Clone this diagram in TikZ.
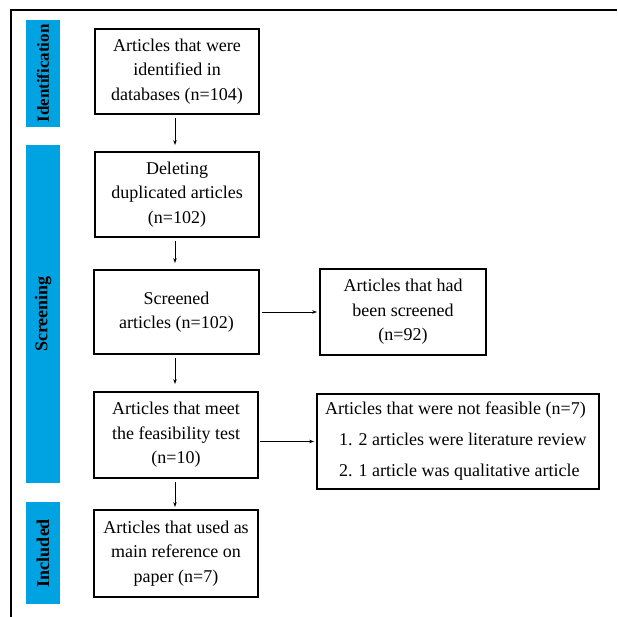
\documentclass[tikz,border=0pt]{standalone}
\usepackage{fontspec}
\setmainfont{Liberation Serif}
\usetikzlibrary{arrows.meta,calc}
\definecolor{barblue}{RGB}{0,163,226}
\begin{document}
\begin{tikzpicture}[x=1pt,y=-1pt,
  box/.style={draw=black,line width=1.8pt,align=center,inner sep=0pt,
    font=\fontsize{18}{24.5}\selectfont},
  bar/.style={fill=barblue,draw=none,rotate=90,inner sep=0pt,
    minimum height=34pt,font=\fontsize{18}{22}\selectfont\bfseries},
  arr/.style={line width=0.8pt,-{Stealth[length=5pt,width=3.5pt]}}
]
\fill[white] (0,0) rectangle (618,617);
\useasboundingbox (0,0) rectangle (618,617);
\draw[line width=2pt] (11,617) -- (11,10.5) -- (617,10.5);

% phase bars
\node[bar,minimum width=107pt,font=\fontsize{17}{22}\selectfont\bfseries] (bid) at (43,73.5) {Identification};
\node[bar,minimum width=338pt] (bsc) at (43,314) {Screening};
\node[bar,minimum width=102pt] (bin) at (43,553) {Included};

% boxes
\node[box,minimum width=164pt,minimum height=85pt] (b1) at (177,71.5)
  {Articles that were\\identified in\\databases (n=104)};
\node[box,minimum width=164pt,minimum height=85pt] (b2) at (177,194.5)
  {Deleting\\duplicated articles\\(n=102)};
\node[box,minimum width=165pt,minimum height=84pt] (b3) at (176.5,312)
  {Screened\\articles (n=102)};
\node[box,minimum width=166pt,minimum height=86pt] (b4) at (403,312)
  {Articles that had\\been screened\\(n=92)};
\node[box,minimum width=164pt,minimum height=86pt] (b5) at (176,435)
  {Articles that meet\\the feasibility test\\(n=10)};
\node[box,minimum width=282pt,minimum height=95pt] (b6) at (458,441.5) {};
\node[align=left,inner sep=0pt,anchor=west,font=\fontsize{18}{31}\selectfont]
  (b6t) at (325,441) {Articles that were not feasible (n=7)\\
   \hspace*{14pt}1. 2 articles were literature review\\
   \hspace*{14pt}2. 1 article was qualitative article};
\node[box,minimum width=164pt,minimum height=87pt] (b7) at (176,553.5)
  {Articles that used as\\main reference on\\paper (n=7)};

% connectors
\coordinate (ax) at (175,0);
\draw[arr,shorten <=3pt,shorten >=6pt] (b1.south -| ax) -- (b2.north -| ax);
\draw[arr,shorten <=3pt,shorten >=6pt] (b2.south -| ax) -- (b3.north -| ax);
\draw[arr,shorten <=3pt,shorten >=7pt] (b3.south -| ax) -- (b5.north -| ax);
\draw[arr,shorten <=3pt,shorten >=2pt] (b5.south -| ax) -- (b7.north -| ax);
\draw[arr,shorten <=2pt,shorten >=2pt] (b3.east) -- (b4.west);
\draw[arr,shorten <=1pt,shorten >=2pt] (b5.east |- b6.west) -- (b6.west);
\end{tikzpicture}
\end{document}
